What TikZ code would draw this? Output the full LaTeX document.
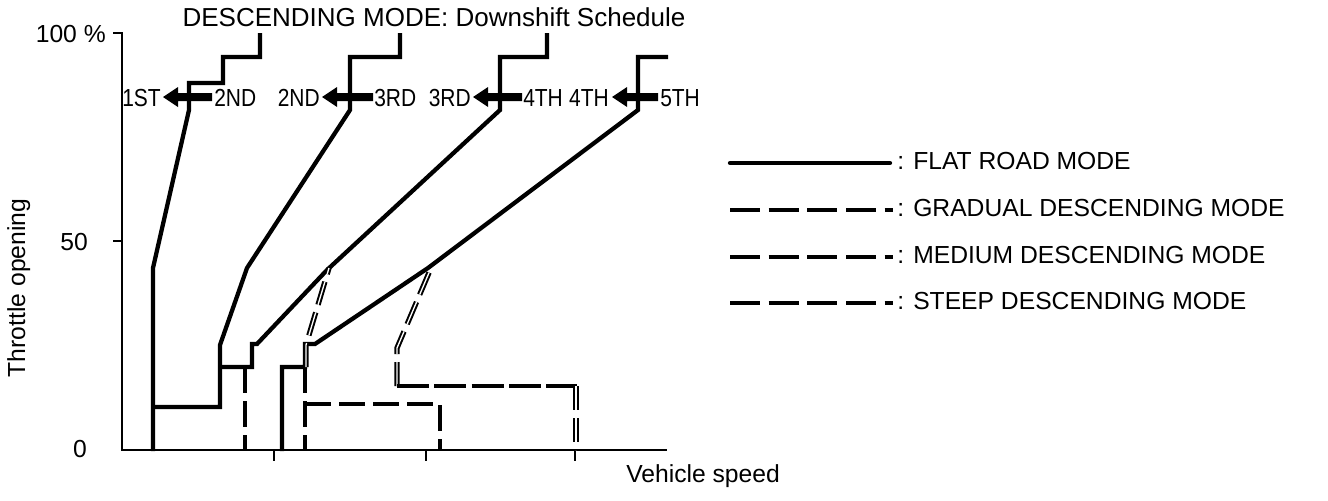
\documentclass[tikz,border=0pt]{standalone}
\usepackage{graphicx}
\usepackage{fontspec}
\setmainfont{Liberation Sans}
\newcommand\gearArrow[2]{%
  \fill (#1,97) -- (#1+15,87) -- (#1+15,93) -- (#2,93) -- (#2,101) -- (#1+15,101) -- (#1+15,107) -- cycle;}
\begin{document}
\begin{tikzpicture}[x=0.75pt,y=-0.75pt,
  flat/.style={line width=3.2pt},
  axisline/.style={line width=1.5pt},
  desc/.style={line width=2.8pt, dash pattern=on 19.5pt off 6pt},
  dbl/.style={line width=1.5pt, double=white, double distance=1pt, dash pattern=on 18pt off 6pt},
  lbl/.style={inner sep=0pt, font=\fontsize{18.5pt}{22pt}\selectfont},
  ttl/.style={inner sep=0pt, font=\fontsize{19.5pt}{23pt}\selectfont},
  gear/.style={inner sep=0pt, font=\fontsize{18.5pt}{22pt}\selectfont},
  legsolid/.style={line width=3.2pt, line cap=round},
  legdash/.style={line width=3.2pt, dash pattern=on 22.5pt off 6.5pt},
]
\useasboundingbox (0,0) rectangle (1328,500);

% title
\node[ttl, anchor=base] (title) at (434,26) {DESCENDING MODE: Downshift Schedule};

% axes
\draw[axisline] (113,33) -- (122,33) -- (122,450) -- (667,450);
\draw[axisline] (113,241) -- (122,241);
\draw[axisline] (274,450) -- (274,461);
\draw[axisline] (426,450) -- (426,461);
\draw[axisline] (575,450) -- (575,461);

\node[lbl, anchor=base east] (y100) at (106,42) {100 \%};
\node[lbl, anchor=base east] (y50) at (88,250) {50};
\node[lbl, anchor=base east] (y0) at (87,457) {0};
\node[lbl, anchor=base, rotate=90] (ylab) at (25,288) {Throttle opening};
\node[lbl, anchor=base west] (xlab) at (626,482) {Vehicle speed};

% shift arrows
\gearArrow{163}{212}
\gearArrow{322}{373}
\gearArrow{473}{522}
\gearArrow{612}{658}

\node[gear, anchor=base east] (g1a) at (161,106) {\scalebox{0.85}[1]{1ST}};
\node[gear, anchor=base west] (g1b) at (214,106) {\scalebox{0.85}[1]{2ND}};
\node[gear, anchor=base east] (g2a) at (320,106) {\scalebox{0.85}[1]{2ND}};
\node[gear, anchor=base west] (g2b) at (374,106) {\scalebox{0.85}[1]{3RD}};
\node[gear, anchor=base east] (g3a) at (471,106) {\scalebox{0.85}[1]{3RD}};
\node[gear, anchor=base west] (g3b) at (523,106) {\scalebox{0.85}[1]{4TH}};
\node[gear, anchor=base east] (g4a) at (609,106) {\scalebox{0.85}[1]{4TH}};
\node[gear, anchor=base west] (g4b) at (660,106) {\scalebox{0.85}[1]{5TH}};

% flat road mode curves
\draw[flat] (153,451) -- (153,268) -- (189,110) -- (189,83) -- (223,83) -- (223,57) -- (260,57) -- (260,33);
\draw[flat] (153,407) -- (220,407) -- (220,345) -- (247,268) -- (350,110) -- (350,57) -- (400,57) -- (400,33);
\draw[flat] (220,367) -- (252,367) -- (252,344) -- (257,344) -- (327,270) -- (500,110) -- (500,57) -- (547,57) -- (547,33);
\draw[flat] (282,451) -- (282,367) -- (305,367) -- (305,344) -- (315,344) -- (428,268) -- (638,110) -- (638,57) -- (668,57);

% descending mode curves
\draw[desc] (245,367) -- (245,450);
\draw[desc] (305,367) -- (305,450);
\draw[desc] (305,404) -- (440,404) -- (440,450);
\draw[dbl] (306,367) -- (306,345) -- (329,268);
\draw[dbl] (397,386) -- (397,348) -- (431,268);
\draw[desc, dash pattern=on 24pt off 4pt] (397,386) -- (577,386);
\draw[dbl] (576,386) -- (576,450);

% legend
\draw[legsolid] (730,163) -- (890,163);
\draw[legdash] (730,210) -- (893,210);
\draw[legdash] (730,257) -- (893,257);
\draw[legdash] (730,303) -- (893,303);
\node[lbl, anchor=base west] (l1) at (897,169) {: FLAT ROAD MODE};
\node[lbl, anchor=base west] (l2) at (897,216) {: GRADUAL DESCENDING MODE};
\node[lbl, anchor=base west] (l3) at (897,263) {: MEDIUM DESCENDING MODE};
\node[lbl, anchor=base west] (l4) at (897,309) {: STEEP DESCENDING MODE};
\end{tikzpicture}
\end{document}
